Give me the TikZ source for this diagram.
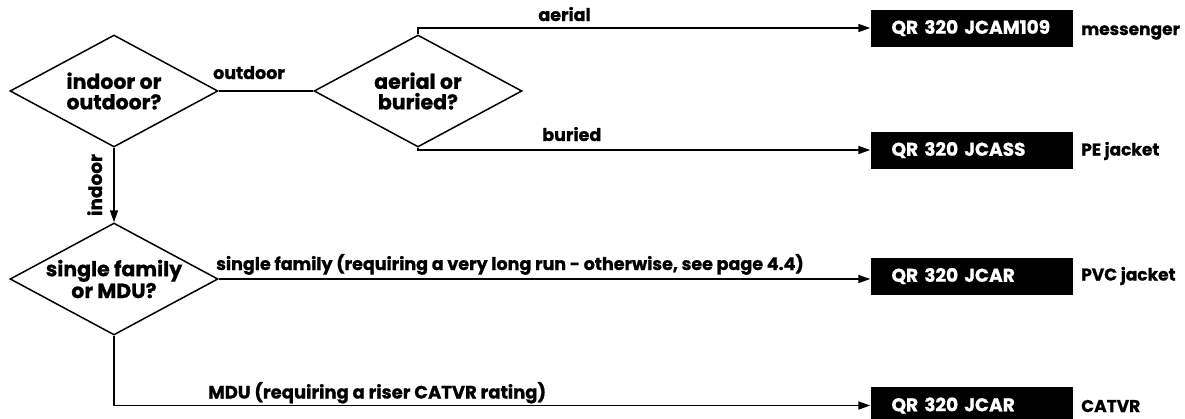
\documentclass[tikz,border=0pt]{standalone}
\usepackage{fontspec}
\setmainfont{Poppins}[BoldFeatures={FakeBold=0.9}]
\usetikzlibrary{shapes.geometric,arrows.meta}
\tikzset{
  dec/.style={draw, line width=1.5pt, shape=diamond, aspect=1.857, minimum width=208pt, minimum height=112pt, inner sep=0pt, align=center, font=\fontsize{20.5}{20.5}\selectfont\bfseries},
  outbox/.style={fill=black, text=white, minimum height=37pt, text width=160pt, inner xsep=21pt, inner ysep=0pt, align=left, font=\fontsize{18.5}{20}\selectfont\bfseries},
  side/.style={anchor=base west, inner sep=0pt, font=\fontsize{17}{18}\selectfont\bfseries},
  lab/.style={font=\fontsize{17.5}{19}\selectfont\bfseries, inner sep=0pt, anchor=base},
  conn/.style={line width=1.5pt},
  arr/.style={line width=1.5pt, -{Triangle[length=12pt,width=8pt]}}
}
\begin{document}
\begin{tikzpicture}[x=1pt,y=-1pt]
\useasboundingbox (0,0) rectangle (1185,418);
\node[dec] (d1) at (114,91) {indoor or\\outdoor?};
\node[dec] (d2) at (418,91) {aerial or\\buried?};
\node[dec] (d3) at (114,279) {single family\\or MDU?};
\node[outbox] (b1) at (971.5,28) {QR 320 JCAM109};
\node[outbox] (b2) at (971.5,150) {QR 320 JCASS};
\node[outbox] (b3) at (971.5,276) {QR 320 JCAR};
\node[outbox] (b4) at (971.5,405.5) {QR 320 JCAR};
\node[side] (s1) at (1081,35) {messenger};
\node[side] (s2) at (1081,155.5) {PE jacket};
\node[side] (s3) at (1081,280.5) {PVC jacket};
\node[side] (s4) at (1081,412) {CATVR};
\draw[conn] (d1.east) -- node[lab, pos=0.32, yshift=12pt] {outdoor} (d2.west);
\draw[arr] (d1.south) -- node[lab, midway, rotate=90, yshift=12pt, font=\fontsize{18.5}{20}\selectfont\bfseries] {indoor} (d3.north);
\draw[arr] (d2.north) |- node[lab, pos=0.662, yshift=7pt] {aerial} (b1.west);
\draw[arr] (d2.south) |- node[lab, pos=0.67, yshift=9pt] {buried} (b2.west);
\draw[arr] (d3.east) -- node[lab, pos=0.447, yshift=9pt] {single family (requiring a very long run - otherwise, see page 4.4)} (d3.east -| b3.west);
\draw[arr] (d3.south) |- node[lab, pos=0.674, yshift=7pt, font=\fontsize{18}{20}\selectfont\bfseries] {MDU (requiring a riser CATVR rating)} (b4.west);
\end{tikzpicture}
\end{document}
